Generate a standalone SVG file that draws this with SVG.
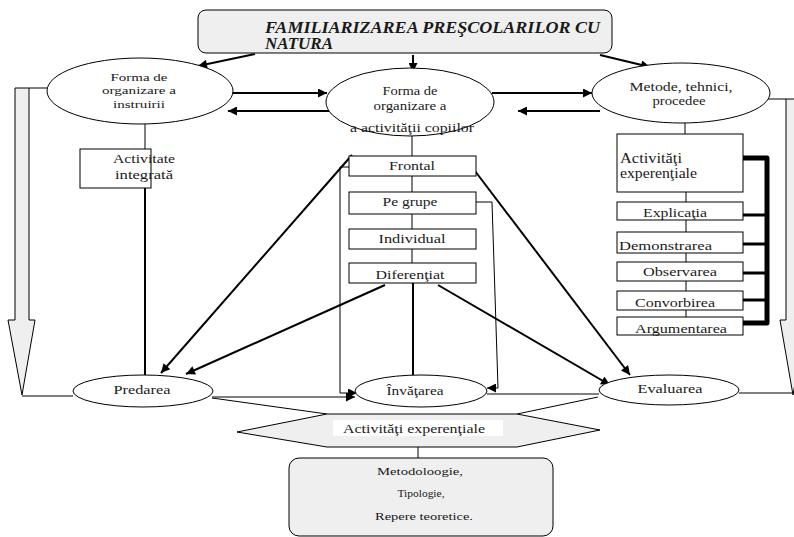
<svg xmlns="http://www.w3.org/2000/svg" width="794" height="537" viewBox="0 0 794 537" font-family="Liberation Serif, DejaVu Serif, serif">
<style>
text{font-family:'Liberation Serif','DejaVu Serif',serif;fill:#1a1a1a}
.b{fill:#fff;stroke:#000;stroke-width:1}
.g{fill:#efefef;stroke:#000;stroke-width:1}
.t2{fill:none;stroke:#000;stroke-width:2}
.t1{fill:none;stroke:#000;stroke-width:1}
.thick{fill:none;stroke:#000;stroke-width:5;stroke-linejoin:round}
.br{fill:none;stroke:#000;stroke-width:3}
.e{font-size:12px}
.bx{font-size:13px}
.sm{font-size:11px}
</style>
<defs>
<marker id="ah" viewBox="0 0 10 10" refX="10" refY="5" markerWidth="11" markerHeight="9" markerUnits="userSpaceOnUse" orient="auto"><path d="M0,0 L10,5 L0,10 z" fill="#000"/></marker>
</defs>

<g id="title">
<rect x="198" y="10" width="414" height="43" rx="8" class="g"/>
<text x="265" y="33" font-size="16" font-weight="bold" font-style="italic" textLength="335" lengthAdjust="spacingAndGlyphs">FAMILIARIZAREA PREŞCOLARILOR CU</text>
<text x="265" y="49" font-size="16" font-weight="bold" font-style="italic" textLength="68" lengthAdjust="spacingAndGlyphs">NATURA</text>
</g>

<g id="connectors">
<line x1="255" y1="54" x2="198" y2="66" class="t2" marker-end="url(#ah)"/>
<line x1="413" y1="55" x2="413" y2="72" class="t2" marker-end="url(#ah)"/>
<line x1="600" y1="55" x2="650" y2="67" class="t2" marker-end="url(#ah)"/>
<line x1="232" y1="93" x2="327" y2="93" class="t2" marker-end="url(#ah)"/>
<line x1="330" y1="111" x2="228" y2="111" class="t2" marker-end="url(#ah)"/>
<line x1="492" y1="93" x2="592" y2="93" class="t2" marker-end="url(#ah)"/>
<line x1="600" y1="111" x2="518" y2="111" class="t2" marker-end="url(#ah)"/>
<line x1="145" y1="124" x2="145" y2="149" class="t1"/>
<line x1="145" y1="188" x2="145" y2="375" class="t2"/>
<line x1="412" y1="136" x2="412" y2="156" class="t1"/>
<line x1="412" y1="176" x2="412" y2="192" class="t1"/>
<line x1="412" y1="214" x2="412" y2="229" class="t1"/>
<line x1="412" y1="249" x2="412" y2="263" class="t1"/>
<line x1="413" y1="283" x2="413" y2="375" class="t2"/>
<polyline points="349,167 340,167 340,393 357,393" class="t1" marker-end="url(#ah)"/>
<polyline points="476,202 492,202 498,388 487,388" class="t1" marker-end="url(#ah)"/>
<line x1="352" y1="155" x2="161" y2="373" class="t2" marker-end="url(#ah)"/>
<line x1="385" y1="285" x2="186" y2="374" class="t2" marker-end="url(#ah)"/>
<line x1="438" y1="285" x2="610" y2="385" class="t2" marker-end="url(#ah)"/>
<line x1="475" y1="171" x2="630" y2="375" class="t2" marker-end="url(#ah)"/>
<line x1="685" y1="123" x2="685" y2="134" class="t1"/>
<line x1="686" y1="192" x2="686" y2="202" class="t1"/>
<line x1="686" y1="220" x2="686" y2="232" class="t1"/>
<line x1="686" y1="253" x2="686" y2="262" class="t1"/>
<line x1="686" y1="281" x2="686" y2="291" class="t1"/>
<line x1="686" y1="310" x2="686" y2="317" class="t1"/>
<polyline points="743,158 767,158 767,323 743,323" class="thick"/>
<line x1="743" y1="215" x2="767" y2="215" class="br"/>
<line x1="743" y1="244" x2="767" y2="244" class="br"/>
<line x1="743" y1="273" x2="767" y2="273" class="br"/>
<line x1="743" y1="300" x2="767" y2="300" class="br"/>
<line x1="212" y1="397" x2="355" y2="397" class="t1" marker-end="url(#ah)"/>
<line x1="487" y1="394" x2="599" y2="394" class="t1"/>
<line x1="739" y1="393" x2="793" y2="393" class="t1"/>
<line x1="22" y1="396" x2="73" y2="396" class="t1"/>
<line x1="29" y1="88" x2="48" y2="88" class="t1"/>
<line x1="768" y1="99" x2="786" y2="99" class="t1"/>
<line x1="212" y1="398" x2="327" y2="414" class="t1"/>
<line x1="598" y1="397" x2="517" y2="414" class="t1"/>
<line x1="418" y1="447" x2="418" y2="458" class="t1"/>
</g>

<g id="leftArrow">
<polygon points="15,88 29,88 29,320 35,320 22,395 8,320 15,320" class="g"/>
</g>
<g id="rightArrow">
<polygon points="786,99 800,99 800,320 806,320 793,395 780,320 786,320" class="g"/>
</g>

<g id="formaInstruirii">
<ellipse cx="140" cy="91" rx="93" ry="33" class="b"/>
<text x="139" y="81" font-size="11" text-anchor="middle" textLength="57" lengthAdjust="spacingAndGlyphs">Forma de</text>
<text x="139" y="94" font-size="11" text-anchor="middle" textLength="74" lengthAdjust="spacingAndGlyphs">organizare a</text>
<text x="139" y="108" font-size="11" text-anchor="middle" textLength="52" lengthAdjust="spacingAndGlyphs">instruirii</text>
</g>

<g id="formaCopiilor">
<ellipse cx="410" cy="102" rx="84" ry="34" class="b"/>
<text class="e" x="410" y="95" text-anchor="middle" textLength="55" lengthAdjust="spacingAndGlyphs">Forma de</text>
<text class="e" x="410" y="110" text-anchor="middle" textLength="73" lengthAdjust="spacingAndGlyphs">organizare a</text>
<text x="412" y="132" text-anchor="middle" font-size="13" textLength="124" lengthAdjust="spacingAndGlyphs">a activităţii copiilor</text>
</g>

<g id="metode">
<ellipse cx="681" cy="93" rx="89" ry="30" class="b"/>
<text class="e" x="681" y="91" text-anchor="middle" textLength="103" lengthAdjust="spacingAndGlyphs">Metode, tehnici,</text>
<text class="e" x="679" y="105" text-anchor="middle" textLength="53" lengthAdjust="spacingAndGlyphs">procedee</text>
</g>

<g id="activitateIntegrata">
<rect x="80" y="149" width="71" height="39" class="b"/>
<text class="bx" x="144" y="163" text-anchor="middle" textLength="62" lengthAdjust="spacingAndGlyphs">Activitate</text>
<text class="bx" x="144" y="179" text-anchor="middle" textLength="58" lengthAdjust="spacingAndGlyphs">integrată</text>
</g>

<g id="frontal">
<rect x="349" y="156" width="127" height="20" class="b"/>
<text class="bx" x="412" y="170" text-anchor="middle" textLength="46" lengthAdjust="spacingAndGlyphs">Frontal</text>
</g>
<g id="peGrupe">
<rect x="349" y="192" width="127" height="22" class="b"/>
<text class="bx" x="410" y="206" text-anchor="middle" textLength="55" lengthAdjust="spacingAndGlyphs">Pe grupe</text>
</g>
<g id="individual">
<rect x="349" y="229" width="127" height="20" class="b"/>
<text class="bx" x="412" y="243" text-anchor="middle" textLength="67" lengthAdjust="spacingAndGlyphs">Individual</text>
</g>
<g id="diferentiat">
<rect x="349" y="263" width="127" height="20" class="b"/>
<text class="bx" x="410" y="279" text-anchor="middle" textLength="69" lengthAdjust="spacingAndGlyphs">Diferenţiat</text>
</g>

<g id="activitatiExperentiale">
<rect x="617" y="134" width="126" height="58" class="b"/>
<text x="620" y="163" font-size="14" textLength="62" lengthAdjust="spacingAndGlyphs">Activităţi</text>
<text x="620" y="178" font-size="14" textLength="77" lengthAdjust="spacingAndGlyphs">experenţiale</text>
</g>
<g id="explicatia">
<rect x="617" y="202" width="126" height="18" class="b"/>
<text class="bx" x="675" y="217" text-anchor="middle" textLength="64" lengthAdjust="spacingAndGlyphs">Explicaţia</text>
</g>
<g id="demonstrarea">
<rect x="617" y="232" width="126" height="21" class="b"/>
<text class="bx" x="619" y="250" textLength="93" lengthAdjust="spacingAndGlyphs">Demonstrarea</text>
</g>
<g id="observarea">
<rect x="617" y="262" width="126" height="19" class="b"/>
<text class="bx" x="680" y="276" text-anchor="middle" textLength="74" lengthAdjust="spacingAndGlyphs">Observarea</text>
</g>
<g id="convorbirea">
<rect x="617" y="291" width="126" height="19" class="b"/>
<text class="bx" x="675" y="307" text-anchor="middle" textLength="80" lengthAdjust="spacingAndGlyphs">Convorbirea</text>
</g>
<g id="argumentarea">
<rect x="617" y="317" width="126" height="18" class="b"/>
<text class="bx" x="681" y="333" text-anchor="middle" textLength="92" lengthAdjust="spacingAndGlyphs">Argumentarea</text>
</g>

<g id="predarea">
<ellipse cx="143" cy="391" rx="70" ry="16" class="b"/>
<text class="bx" x="142" y="394" text-anchor="middle" textLength="57" lengthAdjust="spacingAndGlyphs">Predarea</text>
</g>
<g id="invatarea">
<ellipse cx="421" cy="391" rx="66" ry="16" class="b"/>
<text class="bx" x="415" y="395" text-anchor="middle" textLength="57" lengthAdjust="spacingAndGlyphs">Învăţarea</text>
</g>
<g id="evaluarea">
<ellipse cx="669" cy="390" rx="70" ry="15" class="b"/>
<text class="bx" x="670" y="393" text-anchor="middle" textLength="65" lengthAdjust="spacingAndGlyphs">Evaluarea</text>
</g>

<g id="hexagon">
<polygon points="237,432 327,414 517,414 600,430 517,447 327,447" class="g"/>
<rect x="333" y="420" width="170" height="16" fill="#fff"/>
<text class="bx" x="414" y="433" text-anchor="middle" textLength="142" lengthAdjust="spacingAndGlyphs">Activităţi experenţiale</text>
</g>

<g id="bottomBox">
<rect x="289" y="458" width="264" height="78" rx="10" class="g"/>
<text class="sm" x="420" y="475" text-anchor="middle" textLength="86" lengthAdjust="spacingAndGlyphs">Metodoloogie,</text>
<text class="sm" x="421" y="497" text-anchor="middle" textLength="47" lengthAdjust="spacingAndGlyphs">Tipologie,</text>
<text class="sm" x="424" y="520" text-anchor="middle" textLength="98" lengthAdjust="spacingAndGlyphs">Repere teoretice.</text>
</g>
</svg>
